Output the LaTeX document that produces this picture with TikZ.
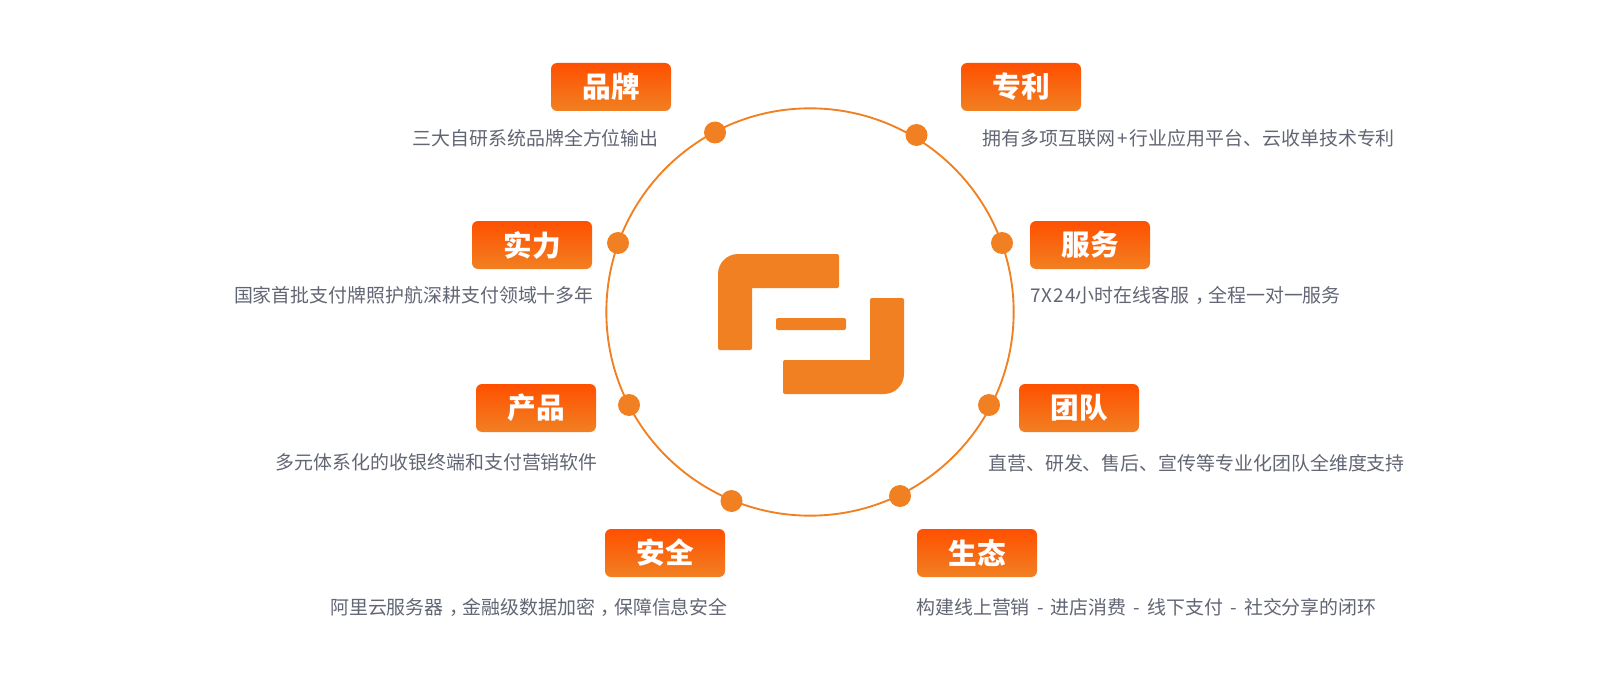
\documentclass[tikz,border=0pt]{standalone}
\usepackage{fontspec}
\setmainfont{Noto Sans CJK SC}
\definecolor{logoorange}{HTML}{F18022}
\definecolor{tagtop}{HTML}{FF5000}
\definecolor{descgray}{HTML}{626573}
\newcommand{\midcomma}{\hspace{.3em}，\hspace{-.3em}}
\newcommand{\gapdash}{\hspace{2.2pt} - \hspace{2.2pt}}
\tikzset{
    tag/.style={rounded corners=4.5pt, minimum width=90pt, minimum height=36pt, inner sep=0pt,
        top color=tagtop, bottom color=logoorange, text=white, font=\fontsize{21.5}{22}\selectfont\bfseries},
    desc/.style={inner sep=0pt, text=descgray, font=\fontsize{14.2}{16}\selectfont},
    dot/.style={circle, fill=logoorange, minimum size=16.5pt, inner sep=0pt}
}
\begin{document}
\begin{tikzpicture}[x=.75pt, y=-.75pt, line join=round]
    \useasboundingbox (0,0) rectangle (1620,688);
    \node[circle, draw=logoorange, line width=1.4pt, minimum size=305.5pt, inner sep=0pt] (ring) at (810,312) {};
    % logo
    \fill[logoorange, rounded corners=1.5pt]
        (735,350) -- (718,350) [rounded corners=15pt] -- (718,254) [rounded corners=1.5pt] -- (839,254) -- (839,288)
        [sharp corners] -- (752,288) [rounded corners=1.5pt] -- (752,350) -- cycle;
    \fill[logoorange, rounded corners=1.5pt] (776,318) rectangle (846,330);
    \fill[logoorange, rounded corners=1.5pt]
        (887,298) -- (904,298) [rounded corners=15pt] -- (904,394) [rounded corners=1.5pt] -- (783,394) -- (783,360)
        [sharp corners] -- (870,360) [rounded corners=1.5pt] -- (870,298) -- cycle;
    % points on the ring
    \node[dot] (dotbrand) at (715,132.5) {};
    \node[dot] (dotpatent) at (916.5,135) {};
    \node[dot] (dotservice) at (1002,243) {};
    \node[dot] (dotteam) at (989,405) {};
    \node[dot] (dotecology) at (900,496) {};
    \node[dot] (dotsafety) at (731.5,501) {};
    \node[dot] (dotproduct) at (629,405) {};
    \node[dot] (dotstrength) at (618,243) {};
    % left column
    \node[tag] (tagbrand) at (611,87) {品牌};
    \node[desc, anchor=east] (descbrand) at (659,138) {三大自研系统品牌全方位输出};
    \node[tag] (tagstrength) at (532,245) {实力};
    \node[desc, anchor=east] (descstrength) at (594,295) {国家首批支付牌照护航深耕支付领域十多年};
    \node[tag] (tagproduct) at (536,408) {产品};
    \node[desc, anchor=east] (descproduct) at (598,462) {多元体系化的收银终端和支付营销软件};
    \node[tag] (tagsafety) at (665,553) {安全};
    \node[desc, anchor=east] (descsafety) at (728,607) {阿里云服务器\midcomma 金融级数据加密\midcomma 保障信息安全};
    % right column
    \node[tag] (tagpatent) at (1021,87) {专利};
    \node[desc, anchor=west] (descpatent) at (982.5,138) {拥有多项互联网\hspace{1.5pt}+\hspace{1.5pt}行业应用平台、云收单技术专利};
    \node[tag] (tagservice) at (1090,245) {服务};
    \node[desc, anchor=west] (descservice) at (1030,295) {{\addfontfeature{LetterSpace=5.5}7X24}小时在线客服\midcomma 全程一对一服务};
    \node[tag] (tagteam) at (1079,408) {团队};
    \node[desc, anchor=west] (descteam) at (988,463) {直营、研发、售后、宣传等专业化团队全维度支持};
    \node[tag] (tagecology) at (977,553) {生态};
    \node[desc, anchor=west] (descecology) at (916,607) {构建线上营销\gapdash 进店消费\gapdash 线下支付\gapdash 社交分享的闭环};
\end{tikzpicture}
\end{document}
